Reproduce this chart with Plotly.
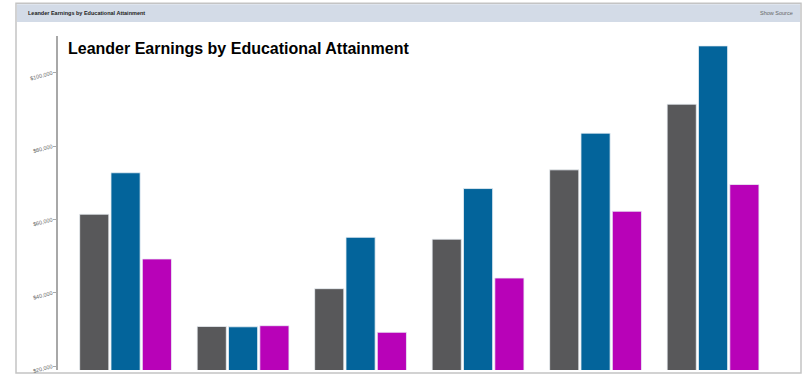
import plotly.graph_objects as go

# Median earnings by educational attainment (USD)
categories = [
    "Total",
    "Less than high school graduate",
    "High school graduate",
    "Some college or associate's degree",
    "Bachelor's degree",
    "Graduate or professional degree",
]
total = [61400, 30800, 41100, 54600, 73500, 91400]
male = [72700, 30700, 55100, 68400, 83500, 107300]
female = [49200, 31000, 29200, 44000, 62200, 69500]

tick_vals = [20000, 40000, 60000, 80000, 100000]
tick_text = ["$20,000", "$40,000", "$60,000", "$80,000", "$100,000"]

W, H = 804, 378
L, R, T, B = 58, 4, 36, 5
pw, ph = W - L - R, H - T - B


def px(x):
    return (x - L) / pw


def py(y):
    return (H - B - y) / ph


fig = go.Figure()
series = [
    ("Total", total, "#58585a"),
    ("Male", male, "#03649b"),
    ("Female", female, "#b802b8"),
]
for name, vals, color in series:
    fig.add_trace(go.Bar(
        x=categories, y=vals, name=name,
        marker=dict(color=color, line=dict(color="rgba(235,240,245,0.8)", width=1)),
    ))

shapes = [
    # outer frame
    dict(type="rect", xref="paper", yref="paper", x0=px(16), x1=px(801), y0=py(376), y1=py(3),
         line=dict(color="#c4c4c4", width=1.5), fillcolor="rgba(0,0,0,0)", layer="below"),
    # header strip
    dict(type="rect", xref="paper", yref="paper", x0=px(17), x1=px(800), y0=py(22), y1=py(4),
         line=dict(width=0), fillcolor="#d3dbe7", layer="below"),
]

annotations = [
    dict(text="<b>Leander Earnings by Educational Attainment</b>", xref="paper", yref="paper",
         x=px(26), y=py(13), xanchor="left", yanchor="middle", showarrow=False,
         font=dict(family="Arial, Liberation Sans", size=5.5, color="#222")),
    dict(text="Show Source", xref="paper", yref="paper",
         x=px(795), y=py(13), xanchor="right", yanchor="middle", showarrow=False,
         font=dict(family="Arial, Liberation Sans", size=5.5, color="#666")),
    dict(text="<b>Leander Earnings by Educational Attainment</b>", xref="paper", yref="paper",
         x=px(66), y=py(49), xanchor="left", yanchor="middle", showarrow=False,
         font=dict(family="Arial, Liberation Sans", size=16, color="#000")),
]

fig.update_layout(
    width=W, height=H,
    margin=dict(l=L, r=R, t=T, b=B),
    paper_bgcolor="white", plot_bgcolor="white",
    barmode="group", bargap=0.2, bargroupgap=0.07,
    showlegend=False,
    shapes=shapes, annotations=annotations,
    xaxis=dict(range=[-0.575, 5.74], showticklabels=False, showgrid=False,
               zeroline=False, showline=False, ticks=""),
    yaxis=dict(range=[18920, 110000], tickvals=tick_vals, ticktext=tick_text,
               showgrid=False, zeroline=False, showline=True, linecolor="#a8a8a8",
               linewidth=1.5, ticks="outside", ticklen=3, tickcolor="#aaa",
               tickangle=-15, tickfont=dict(family="Arial, Liberation Sans", size=5.5, color="#666")),
)

fig.write_html("out.html")
